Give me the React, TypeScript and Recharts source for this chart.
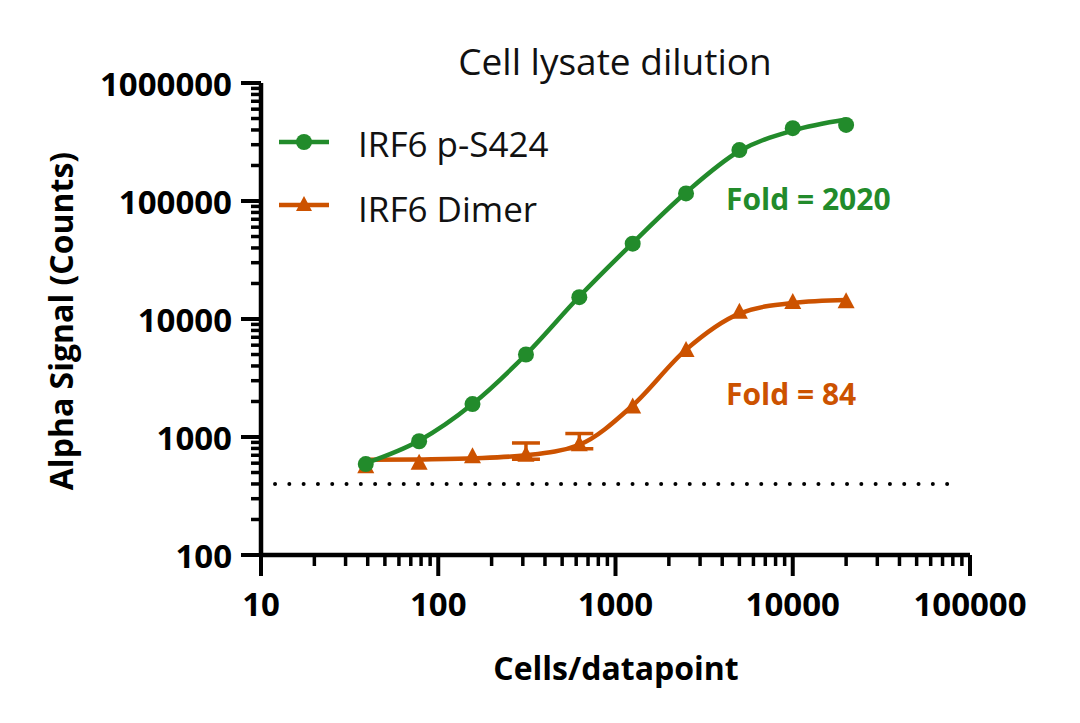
import React from "react";
import { ComposedChart, Line, Scatter, XAxis, YAxis, ErrorBar, ReferenceLine } from "recharts";

// cells per datapoint (2-fold dilution series)
const cells = [39, 78, 156, 312.5, 625, 1250, 2500, 5000, 10000, 20000];

// measured Alpha signal
const pS424Signal = [590, 920, 1900, 5000, 15300, 43500, 116000, 270000, 414000, 441000];
const dimerSignal = [560, 600, 680, 700, 860, 1800, 5400, 11400, 13800, 14000];
// visible error (lower part sits under the marker)
const dimerErrDown = [0, 0, 0, 52, 65, 0, 0, 0, 0, 0];
const dimerErrUp = [0, 0, 0, 190, 210, 0, 0, 0, 0, 0];

// fitted curves evaluated at the same dilutions
const pS424Fit = [600, 930, 1900, 5000, 15500, 44000, 118000, 265000, 395000, 490000];
const dimerFit = [640, 645, 660, 700, 860, 1850, 5500, 11100, 13700, 14500];

const xMajor = [10, 100, 1000, 10000, 100000];
const yMajor = [100, 1000, 10000, 100000, 1000000];
const minorSteps = [2, 3, 4, 5, 6, 7, 8, 9];
const baseline = 400;

const xTicks = xMajor.flatMap((m, i) => (i < xMajor.length - 1 ? [m, ...minorSteps.map((s) => m * s)] : [m]));
const yTicks = yMajor.flatMap((m, i) => (i < yMajor.length - 1 ? [m, ...minorSteps.map((s) => m * s)] : [m]));

const GREEN = "#228B2B";
const ORANGE = "#CC5200";
const FONT = "'Open Sans', sans-serif";

const pS424Points = cells.map((c, i) => ({ cells: c, signal: pS424Signal[i] }));
const dimerPoints = cells.map((c, i) => ({ cells: c, signal: dimerSignal[i] }));
const dimerErrPoints = cells
  .map((c, i) => ({ cells: c, signal: dimerSignal[i], err: [dimerErrDown[i], dimerErrUp[i]] }))
  .filter((d) => d.err[1] > 0);
const pS424Curve = cells.map((c, i) => ({ cells: c, fit: pS424Fit[i] }));
const dimerCurve = cells.map((c, i) => ({ cells: c, fit: dimerFit[i] }));

const XTick = (props: any) => {
  const { x, y, payload } = props;
  const major = xMajor.includes(payload.value);
  return (
    <g>
      <line x1={x} y1={y} x2={x} y2={y + (major ? 21 : 11)} stroke="#000" strokeWidth={major ? 4 : 3.5} />
      {major && (
        <text x={x} y={y + 48} textAnchor="middle" dominantBaseline="central" fontFamily={FONT} fontWeight={700} fontSize={33} fill="#000">
          {payload.value}
        </text>
      )}
    </g>
  );
};

const YTick = (props: any) => {
  const { x, y, payload } = props;
  const major = yMajor.includes(payload.value);
  return (
    <g>
      <line x1={x} y1={y} x2={x - (major ? 20 : 10)} y2={y} stroke="#000" strokeWidth={major ? 4 : 3.5} />
      {major && (
        <text x={x - 29} y={y} textAnchor="end" dominantBaseline="central" fontFamily={FONT} fontWeight={700} fontSize={33} fill="#000">
          {payload.value}
        </text>
      )}
    </g>
  );
};

const Dot = (p: any) => <circle cx={p.cx} cy={p.cy} r={8} fill={GREEN} />;
const Tri = (p: any) => (
  <polygon points={`${p.cx},${p.cy - 9.5} ${p.cx - 8.5},${p.cy + 6.5} ${p.cx + 8.5},${p.cy + 6.5}`} fill={ORANGE} />
);
const NoMark = () => <g />;

export default function App() {
  return (
    <div style={{ position: "absolute", left: 0, top: 0, width: 1080, height: 723, background: "#fff" }}>
      <ComposedChart width={1080} height={723} margin={{ top: 83, right: 110, bottom: 0, left: 0 }}>
        <XAxis
          dataKey="cells"
          type="number"
          scale="log"
          domain={[10, 100000]}
          ticks={xTicks}
          interval={0}
          allowDataOverflow
          height={168}
          tickSize={0}
          tickMargin={0}
          tickLine={false}
          tick={<XTick />}
          axisLine={{ stroke: "#000", strokeWidth: 4.5 }}
        />
        <YAxis
          dataKey="signal"
          type="number"
          scale="log"
          domain={[100, 1000000]}
          ticks={yTicks}
          interval={0}
          allowDataOverflow
          width={261}
          tickSize={0}
          tickMargin={0}
          tickLine={false}
          tick={<YTick />}
          axisLine={{ stroke: "#000", strokeWidth: 4.5 }}
        />
        <ReferenceLine
          segment={[{ x: 12, y: baseline }, { x: 85000, y: baseline }]}
          stroke="#000"
          strokeWidth={4}
          strokeLinecap="round"
          strokeDasharray="0 14.3"
        />
        <Line data={dimerCurve} dataKey="fit" type="monotone" stroke={ORANGE} strokeWidth={4.5} dot={false} isAnimationActive={false} />
        <Line data={pS424Curve} dataKey="fit" type="monotone" stroke={GREEN} strokeWidth={4.5} dot={false} isAnimationActive={false} />
        <Scatter data={dimerErrPoints} dataKey="signal" fill={ORANGE} shape={<NoMark />} isAnimationActive={false}>
          <ErrorBar dataKey="err" direction="y" width={14} stroke={ORANGE} strokeWidth={3.5} />
        </Scatter>
        <Scatter data={dimerPoints} dataKey="signal" fill={ORANGE} shape={<Tri />} isAnimationActive={false} />
        <Scatter data={pS424Points} dataKey="signal" fill={GREEN} shape={<Dot />} isAnimationActive={false} />
      </ComposedChart>

      <svg width={1080} height={723} style={{ position: "absolute", left: 0, top: 0, pointerEvents: "none" }}>
        <text x={615} y={60} textAnchor="middle" dominantBaseline="central" fontFamily={FONT} fontSize={37} fill="#111">
          Cell lysate dilution
        </text>
        <text x={616} y={667} textAnchor="middle" dominantBaseline="central" fontFamily={FONT} fontWeight={700} fontSize={32} fill="#000">
          Cells/datapoint
        </text>
        <text
          transform="translate(60,321) rotate(-90)"
          textAnchor="middle"
          dominantBaseline="central"
          fontFamily={FONT}
          fontWeight={700}
          fontSize={32}
          fill="#000"
        >
          Alpha Signal (Counts)
        </text>

        <line x1={279} y1={142} x2={329} y2={142} stroke={GREEN} strokeWidth={4.5} />
        <circle cx={304} cy={142} r={8} fill={GREEN} />
        <text x={358} y={143} dominantBaseline="central" fontFamily={FONT} fontSize={35} fill="#111">
          IRF6 p-S424
        </text>
        <line x1={279} y1={205} x2={329} y2={205} stroke={ORANGE} strokeWidth={4.5} />
        <polygon points="304,196 296,211 312,211" fill={ORANGE} />
        <text x={358} y={208} dominantBaseline="central" fontFamily={FONT} fontSize={35} fill="#111">
          IRF6 Dimer
        </text>

        <text x={726} y={198} dominantBaseline="central" fontFamily={FONT} fontWeight={700} fontSize={30} fill={GREEN}>
          Fold = 2020
        </text>
        <text x={726} y={393} dominantBaseline="central" fontFamily={FONT} fontWeight={700} fontSize={30} fill={ORANGE}>
          Fold = 84
        </text>
      </svg>
    </div>
  );
}
